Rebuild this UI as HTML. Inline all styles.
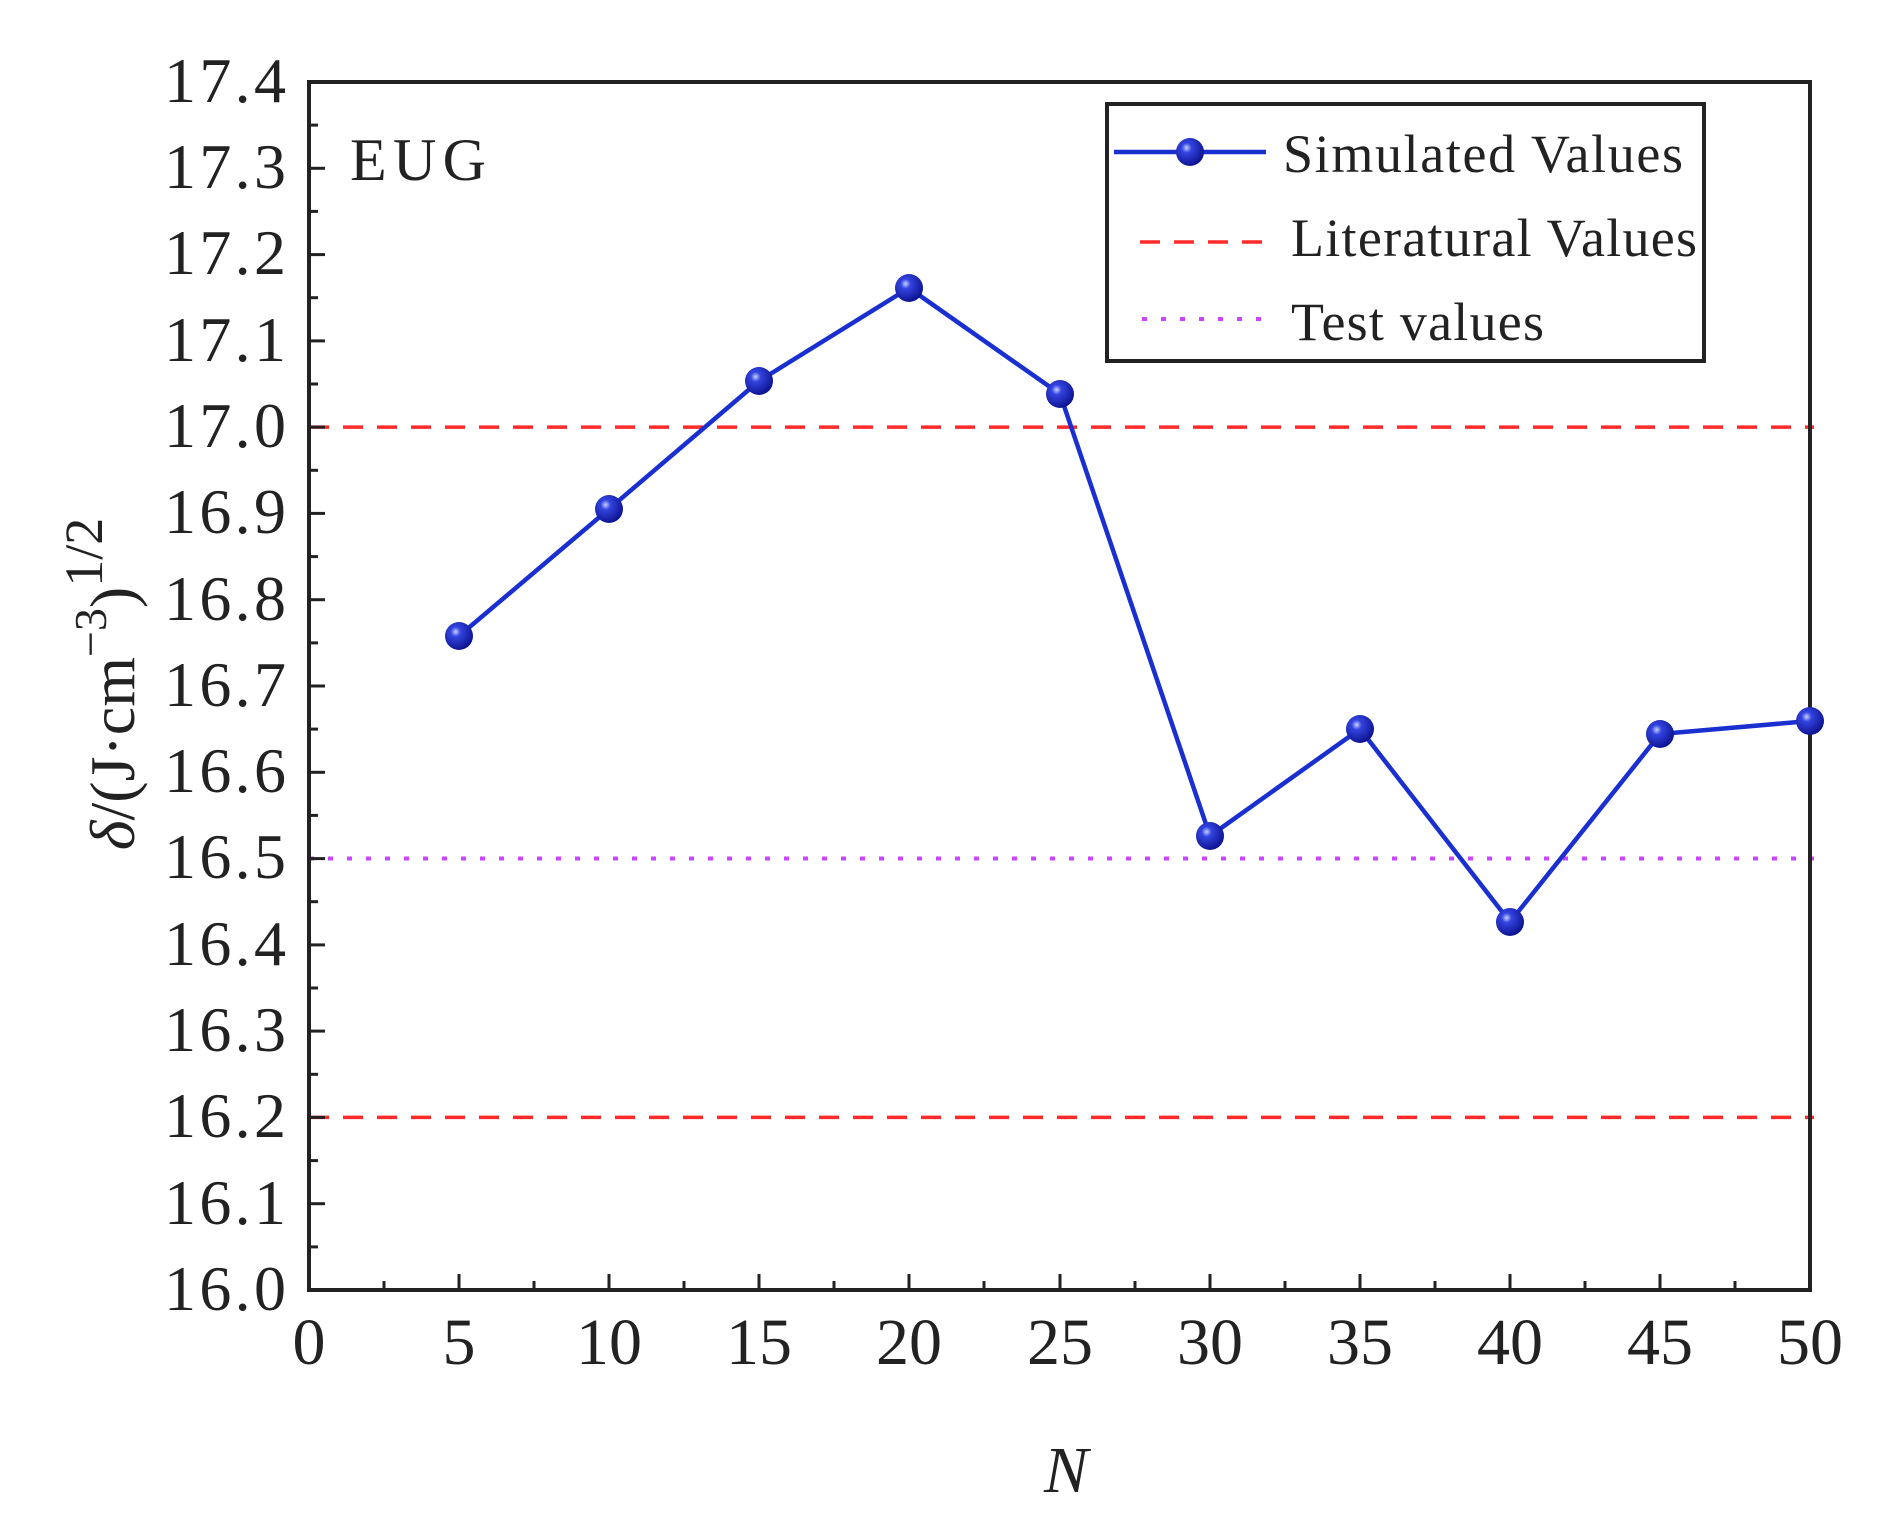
<!DOCTYPE html>
<html><head><meta charset="utf-8"><style>html,body{margin:0;padding:0;background:#fff}svg{display:block}</style></head>
<body>
<svg width="1884" height="1536" viewBox="0 0 1884 1536" xmlns="http://www.w3.org/2000/svg" font-family="'Liberation Serif', serif">
<defs>
<radialGradient id="g" cx="0.38" cy="0.35" r="0.7">
<stop offset="0" stop-color="#c8d0ff"/><stop offset="0.25" stop-color="#3344e0"/><stop offset="1" stop-color="#0a0f8a"/>
</radialGradient>
</defs>
<line x1="309" y1="427.1" x2="1814" y2="427.1" stroke="#ff2a2a" stroke-width="3.5" stroke-dasharray="20,14"/>
<line x1="309" y1="1117.4" x2="1814" y2="1117.4" stroke="#ff2a2a" stroke-width="3.5" stroke-dasharray="20,14"/>
<line x1="309" y1="858.5" x2="1814" y2="858.5" stroke="#cc44ff" stroke-width="4" stroke-dasharray="5,14"/>
<rect x="309" y="82" width="1501" height="1208" fill="none" stroke="#222" stroke-width="4"/>
<g stroke="#222" stroke-width="3">
<line x1="459" y1="1290" x2="459" y2="1274"/><line x1="609" y1="1290" x2="609" y2="1274"/><line x1="759" y1="1290" x2="759" y2="1274"/><line x1="909" y1="1290" x2="909" y2="1274"/><line x1="1060" y1="1290" x2="1060" y2="1274"/><line x1="1210" y1="1290" x2="1210" y2="1274"/><line x1="1360" y1="1290" x2="1360" y2="1274"/><line x1="1510" y1="1290" x2="1510" y2="1274"/><line x1="1660" y1="1290" x2="1660" y2="1274"/>
<line x1="384" y1="1290" x2="384" y2="1281"/><line x1="534" y1="1290" x2="534" y2="1281"/><line x1="684" y1="1290" x2="684" y2="1281"/><line x1="834" y1="1290" x2="834" y2="1281"/><line x1="984" y1="1290" x2="984" y2="1281"/><line x1="1135" y1="1290" x2="1135" y2="1281"/><line x1="1285" y1="1290" x2="1285" y2="1281"/><line x1="1435" y1="1290" x2="1435" y2="1281"/><line x1="1585" y1="1290" x2="1585" y2="1281"/><line x1="1735" y1="1290" x2="1735" y2="1281"/>
<line x1="309" y1="1203.7" x2="325" y2="1203.7"/><line x1="309" y1="1117.4" x2="325" y2="1117.4"/><line x1="309" y1="1031.1" x2="325" y2="1031.1"/><line x1="309" y1="944.9" x2="325" y2="944.9"/><line x1="309" y1="858.6" x2="325" y2="858.6"/><line x1="309" y1="772.3" x2="325" y2="772.3"/><line x1="309" y1="686" x2="325" y2="686"/><line x1="309" y1="599.7" x2="325" y2="599.7"/><line x1="309" y1="513.4" x2="325" y2="513.4"/><line x1="309" y1="427.1" x2="325" y2="427.1"/><line x1="309" y1="340.9" x2="325" y2="340.9"/><line x1="309" y1="254.6" x2="325" y2="254.6"/><line x1="309" y1="168.3" x2="325" y2="168.3"/>
<line x1="309" y1="1246.9" x2="318" y2="1246.9"/><line x1="309" y1="1160.6" x2="318" y2="1160.6"/><line x1="309" y1="1074.3" x2="318" y2="1074.3"/><line x1="309" y1="988" x2="318" y2="988"/><line x1="309" y1="901.7" x2="318" y2="901.7"/><line x1="309" y1="815.4" x2="318" y2="815.4"/><line x1="309" y1="729.1" x2="318" y2="729.1"/><line x1="309" y1="642.9" x2="318" y2="642.9"/><line x1="309" y1="556.6" x2="318" y2="556.6"/><line x1="309" y1="470.3" x2="318" y2="470.3"/><line x1="309" y1="384" x2="318" y2="384"/><line x1="309" y1="297.7" x2="318" y2="297.7"/><line x1="309" y1="211.4" x2="318" y2="211.4"/><line x1="309" y1="125.1" x2="318" y2="125.1"/>
</g>
<g font-size="64" fill="#222" text-anchor="end">
<text x="286" y="1310" textLength="122">16.0</text>
<text x="286" y="1224" textLength="122">16.1</text>
<text x="286" y="1137" textLength="122">16.2</text>
<text x="286" y="1051" textLength="122">16.3</text>
<text x="286" y="965" textLength="122">16.4</text>
<text x="286" y="878" textLength="122">16.5</text>
<text x="286" y="792" textLength="122">16.6</text>
<text x="286" y="706" textLength="122">16.7</text>
<text x="286" y="620" textLength="122">16.8</text>
<text x="286" y="533" textLength="122">16.9</text>
<text x="286" y="447" textLength="122">17.0</text>
<text x="286" y="361" textLength="122">17.1</text>
<text x="286" y="274" textLength="122">17.2</text>
<text x="286" y="188" textLength="122">17.3</text>
<text x="286" y="102" textLength="122">17.4</text>
</g>
<g font-size="66" fill="#222" text-anchor="middle">
<text x="309" y="1364">0</text><text x="459" y="1364">5</text><text x="609" y="1364">10</text><text x="759" y="1364">15</text><text x="909" y="1364">20</text><text x="1060" y="1364">25</text><text x="1210" y="1364">30</text><text x="1360" y="1364">35</text><text x="1510" y="1364">40</text><text x="1660" y="1364">45</text><text x="1810" y="1364">50</text>
</g>
<text x="1066" y="1492" font-size="66" font-style="italic" text-anchor="middle" fill="#222">N</text>
<text transform="translate(134,684) rotate(-90)" font-size="64" text-anchor="middle" fill="#222"><tspan font-style="italic">δ</tspan>/(J·cm<tspan font-size="46" dy="-28">−3</tspan><tspan dy="28">)</tspan><tspan font-size="54" dy="-32">1/2</tspan></text>
<text x="350" y="180" font-size="60" fill="#222" textLength="136">EUG</text>
<polyline fill="none" stroke="#1a2fd0" stroke-width="4.5" points="459,636 609,509 759,381 909,288 1060,394 1210,836 1360,729 1510,922 1660,734 1810,721"/>
<g fill="url(#g)">
<circle cx="459" cy="636" r="14"/><circle cx="609" cy="509" r="14"/><circle cx="759" cy="381" r="14"/><circle cx="909" cy="288" r="14"/><circle cx="1060" cy="394" r="14"/><circle cx="1210" cy="836" r="14"/><circle cx="1360" cy="729" r="14"/><circle cx="1510" cy="922" r="14"/><circle cx="1660" cy="734" r="14"/><circle cx="1810" cy="721" r="14"/>
</g>
<rect x="1107" y="104" width="597" height="257" fill="#fff" stroke="#222" stroke-width="4"/>
<line x1="1114" y1="152" x2="1266" y2="152" stroke="#1a2fd0" stroke-width="4.5"/>
<circle cx="1190" cy="152" r="14" fill="url(#g)"/>
<line x1="1140" y1="242" x2="1262" y2="242" stroke="#ff2a2a" stroke-width="3.5" stroke-dasharray="20,14"/>
<line x1="1142" y1="319" x2="1268" y2="319" stroke="#cc44ff" stroke-width="4" stroke-dasharray="5,14"/>
<g font-size="54" fill="#222">
<text x="1283" y="172" textLength="400">Simulated Values</text>
<text x="1291" y="256" textLength="406">Literatural Values</text>
<text x="1291" y="340" textLength="253">Test values</text>
</g>
</svg>
</body></html>
